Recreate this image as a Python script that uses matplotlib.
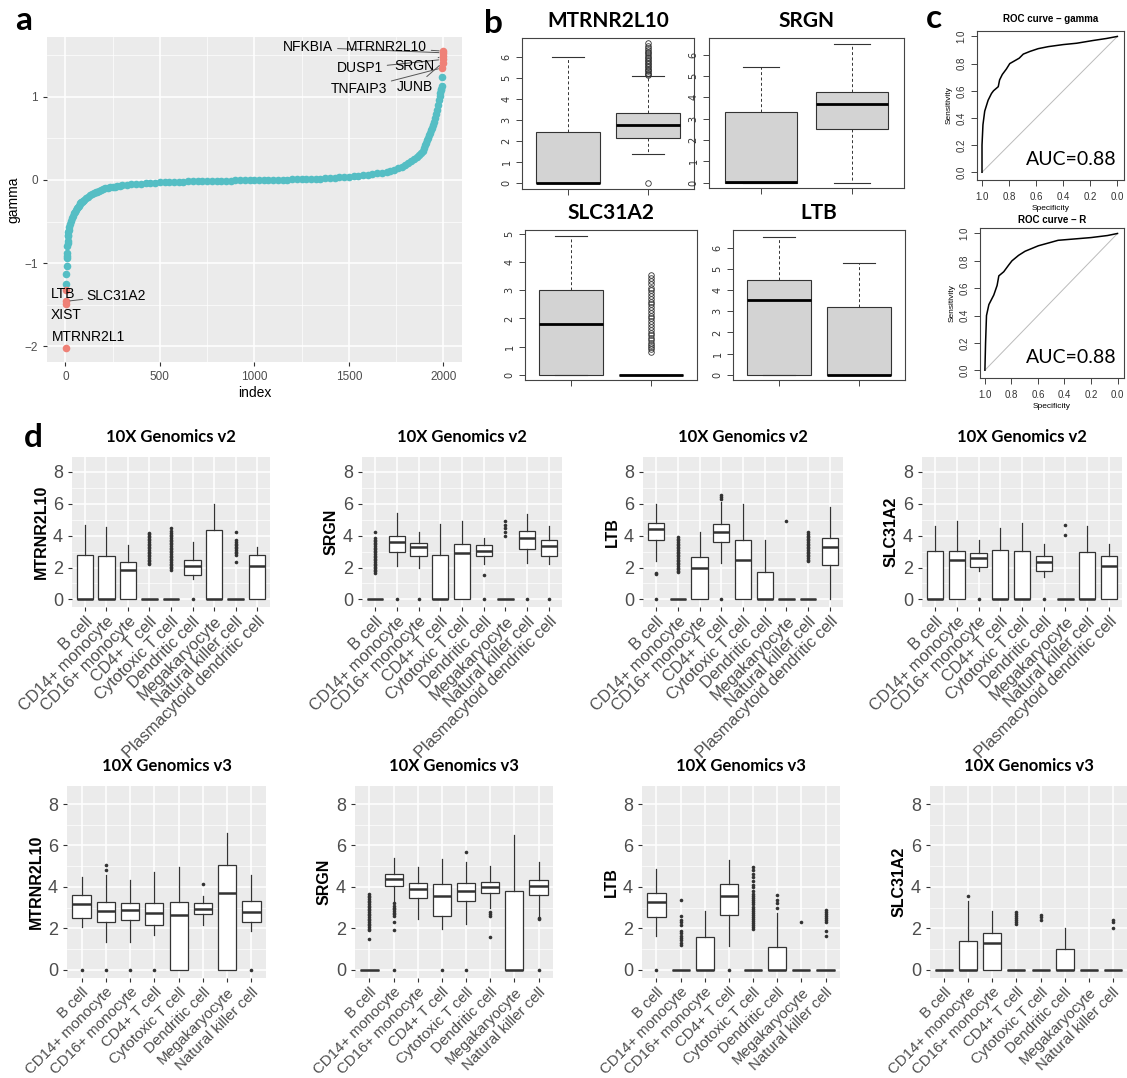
import matplotlib
matplotlib.use("Agg")
import matplotlib.pyplot as plt
from matplotlib.ticker import MultipleLocator, FixedLocator

W, H = 1127, 1078

# ---------------- panel a : sorted gamma values ----------------
a_index = [5, 6, 7, 8, 9, 10, 11, 12, 13, 14, 15, 16, 18,
           20, 25, 30, 35, 40, 45, 50, 55, 60, 65, 70, 75, 80, 85, 90, 95,
           100, 110, 120, 130, 140, 150, 160, 170, 180, 190, 200, 212, 225, 237, 250,
           262, 275, 287, 300, 325, 350, 375, 400, 425, 450, 475, 500, 525, 550, 575,
           600, 625, 650, 675, 700, 725, 750, 775, 800, 825, 850, 875, 900, 925, 950,
           975, 1000, 1025, 1050, 1075, 1100, 1125, 1150, 1175, 1200, 1225, 1250, 1275,
           1300, 1325, 1350, 1375, 1400, 1425, 1450, 1475, 1500, 1525, 1550, 1575, 1600,
           1625, 1650, 1675, 1700, 1720, 1740, 1760, 1780, 1800, 1815, 1830, 1845, 1860,
           1870, 1880, 1890, 1900, 1905, 1910, 1915, 1920, 1925, 1930, 1935, 1940, 1945,
           1950, 1955, 1960, 1965, 1970, 1975, 1980, 1984, 1988, 1990, 1992, 1994]
a_gamma = [-1.25, -1.13, -1.04, -0.94, -0.91, -0.88, -0.80, -0.76, -0.73, -0.68, -0.66,
           -0.63, -0.60,
           -0.57, -0.53, -0.49, -0.46, -0.43, -0.40, -0.38, -0.36, -0.34, -0.325, -0.31,
           -0.295, -0.28, -0.27, -0.26, -0.25,
           -0.24, -0.22, -0.20, -0.185, -0.17, -0.16, -0.15, -0.14, -0.13, -0.12, -0.11,
           -0.102, -0.095, -0.09, -0.085, -0.08, -0.075, -0.07, -0.065, -0.058, -0.052,
           -0.047, -0.043, -0.039, -0.036, -0.033, -0.030, -0.028, -0.026, -0.024,
           -0.022, -0.020, -0.018, -0.016, -0.015, -0.013, -0.012, -0.011, -0.010,
           -0.009, -0.008, -0.007, -0.006, -0.005, -0.004, -0.003, -0.002, -0.001, 0.0,
           0.001, 0.002, 0.003, 0.004, 0.005, 0.006, 0.007, 0.009, 0.010, 0.012, 0.014,
           0.016, 0.019, 0.022, 0.026, 0.030, 0.035, 0.040, 0.045, 0.050, 0.056, 0.062,
           0.070, 0.078, 0.088, 0.10, 0.112, 0.125, 0.14, 0.16, 0.18, 0.20, 0.225, 0.25,
           0.28, 0.30, 0.325, 0.35, 0.39, 0.42, 0.45, 0.48, 0.51, 0.54, 0.57, 0.60, 0.63,
           0.66, 0.70, 0.74, 0.79, 0.84, 0.90, 0.96, 1.01, 1.05, 1.08, 1.10, 1.13, 1.24]

a_genes = ["MTRNR2L1", "XIST", "SLC31A2", "LTB",
           "TNFAIP3", "JUNB", "DUSP1", "SRGN", "NFKBIA", "MTRNR2L10"]
a_gene_index = [1, 2, 3, 4, 1995, 1996, 1997, 1998, 1999, 2000]
a_gene_gamma = [-2.02, -1.49, -1.46, -1.32, 1.35, 1.41, 1.45, 1.49, 1.53, 1.55]
a_label_x = [120, 6, 271, -12, 1554, 1848, 1559, 1845, 1286, 1700]
a_label_y = [-1.89, -1.62, -1.39, -1.37, 1.09, 1.115, 1.345, 1.375, 1.595, 1.595]
a_label_line = [False, False, True, False, True, True, True, True, True, True]

# ---------------- panel b : two-group boxplots ----------------
b_genes = ["MTRNR2L10", "SRGN", "SLC31A2", "LTB"]
# (q1, median, q3, whisker_lo, whisker_hi)
b_mt_box = [(0, 0, 2.43, 0, 6.02), (2.13, 2.77, 3.33, 1.37, 5.1)]
b_mt_out = [[], [5.14, 5.2, 5.26, 5.32, 5.38, 5.45, 5.52, 5.58, 5.65, 5.72, 5.8, 5.87,
                 5.94, 6.02, 6.1, 6.18, 6.26, 6.35, 6.45, 6.55, 6.65, 0.0]]
b_srgn_box = [(0, 0.02, 3.33, 0, 5.43), (2.52, 3.68, 4.23, 0, 6.5)]
b_srgn_out = [[], []]
b_slc_box = [(0, 1.8, 3.0, 0, 4.93), (0, 0, 0, 0, 0)]
b_slc_out = [[], [0.82, 0.9, 0.98, 1.06, 1.14, 1.22, 1.3, 1.4, 1.5, 1.6, 1.7, 1.8, 1.9,
                  2.0, 2.1, 2.2, 2.3, 2.4, 2.5, 2.6, 2.7, 2.8, 2.9, 3.0, 3.1, 3.22,
                  3.35, 3.45, 3.55]]
b_ltb_box = [(0, 3.53, 4.45, 0, 6.52), (0, 0, 3.2, 0, 5.28)]
b_ltb_out = [[], []]
b_ylim = [(-0.3, 6.91), (-0.25, 6.78), (-0.19, 5.15), (-0.24, 6.83)]
b_ymax_tick = [6, 6, 5, 6]

# ---------------- panel c : ROC curves ----------------
roc_gamma_spec = [1.0, 1.0, 0.993, 0.98, 0.955, 0.93, 0.915, 0.88, 0.87, 0.85, 0.82,
                  0.795, 0.76, 0.725, 0.695, 0.645, 0.585, 0.51, 0.4, 0.3, 0.18, 0.08, 0.0]
roc_gamma_sens = [0.0, 0.2, 0.35, 0.45, 0.53, 0.58, 0.60, 0.63, 0.68, 0.72, 0.76, 0.80,
                  0.82, 0.84, 0.87, 0.89, 0.91, 0.925, 0.94, 0.95, 0.97, 0.985, 1.0]
roc_r_spec = [1.0, 0.995, 0.988, 0.97, 0.933, 0.908, 0.895, 0.858, 0.82, 0.796, 0.746,
              0.697, 0.647, 0.597, 0.522, 0.448, 0.323, 0.2, 0.075, 0.0]
roc_r_sens = [0.0, 0.2, 0.40, 0.48, 0.55, 0.62, 0.69, 0.72, 0.77, 0.80, 0.84, 0.87,
              0.89, 0.91, 0.93, 0.95, 0.96, 0.97, 0.985, 1.0]
auc_gamma = 0.88
auc_r = 0.88

# ---------------- panel d : per cell type ----------------
cells_v2 = ["B cell", "CD14+ monocyte", "CD16+ monocyte", "CD4+ T cell",
            "Cytotoxic T cell", "Dendritic cell", "Megakaryocyte",
            "Natural killer cell", "Plasmacytoid dendritic cell"]
cells_v3 = cells_v2[:8]

mt_v2_box = [(0, 0, 2.78, 0, 4.65), (0, 0, 2.72, 0, 4.55), (0, 1.82, 2.35, 0, 3.42),
             (0, 0, 0, 0, 0), (0, 0, 0, 0, 0), (1.52, 2.1, 2.48, 1.3, 3.62),
             (0, 0, 4.35, 0, 6.0), (0, 0, 0, 0, 0), (0, 2.12, 2.8, 0, 3.3)]
mt_v2_out = [[], [], [],
             [2.22, 2.3, 2.4, 2.5, 2.6, 2.7, 2.8, 2.9, 3.0, 3.1, 3.2, 3.3, 3.4, 3.5,
              3.6, 3.7, 3.8, 3.9, 4.0, 4.1, 4.15],
             [1.85, 1.95, 2.05, 2.15, 2.25, 2.35, 2.45, 2.55, 2.65, 2.75, 2.85, 2.95,
              3.05, 3.15, 3.25, 3.35, 3.45, 3.55, 3.65, 3.75, 3.85, 3.95, 4.05, 4.15,
              4.3, 4.5],
             [0.0], [],
             [2.35, 2.8, 2.9, 3.0, 3.1, 3.2, 3.3, 3.4, 3.5, 3.6, 3.7, 4.2], []]

srgn_v2_box = [(0, 0, 0, 0, 0), (3.0, 3.6, 4.0, 2.1, 5.4), (2.7, 3.28, 3.57, 1.95, 4.25),
               (0, 0, 2.8, 0, 4.75), (0, 2.88, 3.5, 0, 4.95), (2.75, 3.05, 3.4, 2.2, 3.85),
               (0, 0, 0, 0, 0), (3.15, 3.85, 4.3, 2.3, 5.35), (2.75, 3.32, 3.72, 2.2, 4.6)]
srgn_v2_out = [[1.65, 1.75, 1.85, 1.95, 2.05, 2.15, 2.25, 2.35, 2.45, 2.55, 2.65, 2.75,
                2.85, 2.95, 3.05, 3.15, 3.25, 3.35, 3.45, 3.55, 3.65, 3.75, 3.85, 4.25],
               [0.0], [0.0], [], [], [1.55, 0.0], [4.0, 4.2, 4.45, 4.7, 4.9], [0.0], [0.0]]

ltb_v2_box = [(3.72, 4.4, 4.82, 2.4, 6.0), (0, 0, 0, 0, 0), (0, 1.95, 2.68, 0, 4.25),
              (3.62, 4.25, 4.72, 2.3, 6.1), (0, 2.5, 3.72, 0, 6.0), (0, 0, 1.7, 0, 3.7),
              (0, 0, 0, 0, 0), (0, 0, 0, 0, 0), (2.18, 3.3, 3.88, 0, 5.8)]
ltb_v2_out = [[1.68, 1.58, 0.0],
              [1.7, 1.8, 1.9, 2.0, 2.1, 2.2, 2.3, 2.4, 2.5, 2.6, 2.7, 2.8, 2.9, 3.0,
               3.1, 3.2, 3.3, 3.4, 3.5, 3.6, 3.7, 3.8, 3.9],
              [], [6.3, 6.45, 6.55, 0.0], [], [], [4.9],
              [2.4, 2.5, 2.6, 2.7, 2.8, 2.9, 3.0, 3.1, 3.2, 3.3, 3.4, 3.5, 3.6, 3.7,
               3.8, 3.9, 4.0, 4.1, 4.2],
              []]

slc_v2_box = [(0, 0, 3.02, 0, 4.6), (0, 2.45, 3.02, 0, 4.95), (2.05, 2.6, 2.9, 1.75, 3.7),
              (0, 0, 3.1, 0, 4.5), (0, 0, 3.02, 0, 4.82), (1.8, 2.32, 2.75, 1.4, 3.45),
              (0, 0, 0, 0, 0), (0, 0, 3.0, 0, 4.6), (0, 2.1, 2.7, 0, 3.5)]
slc_v2_out = [[], [], [0.0], [], [], [0.0], [4.05, 4.7], [], []]

mt_v3_box = [(2.5, 3.18, 3.6, 2.05, 4.5), (2.3, 2.83, 3.27, 1.35, 4.55),
             (2.38, 2.88, 3.2, 1.35, 4.35), (2.18, 2.75, 3.22, 1.7, 4.72),
             (0, 2.65, 3.28, 0, 4.95), (2.7, 2.92, 3.2, 2.15, 3.58),
             (0, 3.68, 5.05, 0, 6.62), (2.28, 2.8, 3.3, 1.88, 4.58)]
mt_v3_out = [[0.0], [4.8, 5.05, 0.0], [0.0], [0.0], [], [4.12], [], [0.0]]

srgn_v3_box = [(0, 0, 0, 0, 0), (4.05, 4.38, 4.62, 3.25, 5.4), (3.48, 3.88, 4.18, 2.45, 4.98),
               (2.58, 3.55, 4.15, 1.97, 5.35), (3.3, 3.78, 4.18, 2.2, 5.2),
               (3.72, 3.98, 4.25, 3.0, 5.0), (0, 0, 3.8, 0, 6.5),
               (3.62, 4.02, 4.35, 2.55, 5.2)]
srgn_v3_out = [[1.5, 1.9, 1.98, 2.06, 2.14, 2.22, 2.3, 2.38, 2.46, 2.54, 2.62, 2.7, 2.78,
                2.86, 2.94, 3.02, 3.1, 3.18, 3.26, 3.34, 3.42, 3.5, 3.58, 3.65],
               [1.92, 2.3, 2.6, 2.68, 2.76, 2.84, 2.92, 3.0, 3.1, 3.2, 0.0],
               [], [0.0], [5.7, 0.0], [2.6, 2.7, 2.8, 1.6], [], [2.45, 2.52, 0.0]]

ltb_v3_box = [(2.55, 3.28, 3.72, 1.65, 4.85), (0, 0, 0, 0, 0), (0, 0, 1.6, 0, 2.85),
              (2.62, 3.55, 4.12, 1.15, 5.28), (0, 0, 0, 0, 0), (0, 0, 1.08, 0, 2.75),
              (0, 0, 0, 0, 0), (0, 0, 0, 0, 0)]
ltb_v3_out = [[0.0],
              [1.2, 1.3, 1.42, 1.55, 1.65, 1.75, 1.85, 2.15, 2.3, 2.4, 2.58, 3.35],
              [], [0.0],
              [1.95, 2.05, 2.15, 2.25, 2.35, 2.45, 2.55, 2.65, 2.75, 2.85, 2.95, 3.05,
               3.15, 3.25, 3.35, 3.45, 3.55, 3.65, 3.8, 4.0, 4.1, 4.3, 4.5, 4.62,
               4.8, 4.95],
              [3.0, 3.2, 3.35, 3.6], [2.3],
              [1.65, 1.85, 2.3, 2.4, 2.5, 2.6, 2.7, 2.8, 2.9]]

slc_v3_box = [(0, 0, 0, 0, 0), (0, 0, 1.38, 0, 3.3), (0, 1.3, 1.78, 0, 2.85),
              (0, 0, 0, 0, 0), (0, 0, 0, 0, 0), (0, 0, 1.02, 0, 2.02),
              (0, 0, 0, 0, 0), (0, 0, 0, 0, 0)]
slc_v3_out = [[], [3.55], [], [2.2, 2.3, 2.4, 2.5, 2.6, 2.7, 2.8], [2.4, 2.55, 2.65],
              [], [], [2.0, 2.3, 2.4]]

d_genes = ["MTRNR2L10", "SRGN", "LTB", "SLC31A2"]
d_v2 = [(mt_v2_box, mt_v2_out), (srgn_v2_box, srgn_v2_out),
        (ltb_v2_box, ltb_v2_out), (slc_v2_box, slc_v2_out)]
d_v3 = [(mt_v3_box, mt_v3_out), (srgn_v3_box, srgn_v3_out),
        (ltb_v3_box, ltb_v3_out), (slc_v3_box, slc_v3_out)]

# ---------------- drawing ----------------
SANS = "Liberation Sans"
TITLE = "Lato"
GG_TEXT = "#4d4d4d"
GG_LINE = "#333333"

fig = plt.figure(figsize=(W / 100, H / 100), dpi=100)


def axes_px(left, top, right, bottom):
    return fig.add_axes([left / W, 1 - bottom / H, (right - left) / W, (bottom - top) / H])


def fig_text(x, y, s, **kw):
    fig.text(x / W, 1 - y / H, s, **kw)


def to_stats(boxes, outs):
    stats = []
    for (q1, med, q3, lo, hi), fl in zip(boxes, outs):
        stats.append(dict(q1=q1, med=med, q3=q3, whislo=lo, whishi=hi, fliers=fl))
    return stats


def gg_style(ax):
    ax.set_facecolor("#EBEBEB")
    for s in ax.spines.values():
        s.set_visible(False)
    ax.grid(which="major", color="white", lw=1.1)
    ax.grid(which="minor", color="white", lw=0.5)
    ax.set_axisbelow(True)
    ax.tick_params(which="major", length=3, color=GG_LINE, labelcolor=GG_TEXT, width=0.8)
    ax.tick_params(which="minor", length=0)


def r_style(ax):
    for s in ax.spines.values():
        s.set_color("#444444")
        s.set_linewidth(0.8)
    ax.tick_params(length=4, width=0.7, color="#444444", labelcolor="#333333",
                   labelsize=7)
    ax.tick_params(axis="y", labelrotation=90)
    for lab in ax.get_yticklabels():
        lab.set_va("center")


# panel a
ax = axes_px(47, 37, 462, 362)
gg_style(ax)
ax.scatter(a_index, a_gamma, s=30, color="#55BEC4", lw=0, zorder=3)
ax.scatter(a_gene_index, a_gene_gamma, s=30, color="#EF8177", lw=0, zorder=4)
for g, gx, gy, lx, ly, ln in zip(a_genes, a_gene_index, a_gene_gamma,
                                 a_label_x, a_label_y, a_label_line):
    arrow = dict(arrowstyle="-", color="#555555", lw=0.7, shrinkA=1, shrinkB=3) if ln else None
    ax.annotate(g, xy=(gx, gy), xytext=(lx, ly), ha="center", va="center",
                fontsize=10, family=SANS, arrowprops=arrow, zorder=5)
ax.set_xlim(-97, 2099)
ax.set_ylim(-2.19, 1.72)
ax.xaxis.set_major_locator(MultipleLocator(500))
ax.xaxis.set_minor_locator(MultipleLocator(250))
ax.yaxis.set_major_locator(MultipleLocator(1))
ax.yaxis.set_minor_locator(MultipleLocator(0.5))
ax.set_yticks([-2, -1, 0, 1])
ax.set_yticklabels(["\u22122", "\u22121", "0", "1"])
for lab in ax.get_xticklabels() + ax.get_yticklabels():
    lab.set_family(SANS)
    lab.set_fontsize(8.5)
ax.set_xlabel("index", family=SANS, fontsize=10, labelpad=2)
ax.set_ylabel("gamma", family=SANS, fontsize=10, labelpad=3)

# panel b
b_pos = [(522, 38, 694, 189), (709, 38, 904, 188), (525, 230, 697, 380), (733, 230, 905, 380)]
b_data = [(b_mt_box, b_mt_out), (b_srgn_box, b_srgn_out),
          (b_slc_box, b_slc_out), (b_ltb_box, b_ltb_out)]
for gene, pos, (bx, bo), ylim, ymax in zip(b_genes, b_pos, b_data, b_ylim, b_ymax_tick):
    ax = axes_px(*pos)
    ax.bxp(to_stats(bx, bo), positions=[1, 2], widths=0.8, patch_artist=True,
           capwidths=0.4,
           boxprops=dict(facecolor="#D3D3D3", edgecolor="#333333", lw=0.8),
           medianprops=dict(color="black", lw=2.0),
           whiskerprops=dict(color="#333333", lw=0.7, ls=(0, (3, 2.5))),
           capprops=dict(color="#333333", lw=0.8),
           flierprops=dict(marker="o", markersize=4, mfc="none", mec="#333333", mew=0.6))
    ax.set_xlim(0.42, 2.58)
    ax.set_ylim(*ylim)
    ax.set_xticks([1, 2])
    ax.set_xticklabels(["", ""])
    ax.set_yticks(range(ymax + 1))
    r_style(ax)
    fig_text((pos[0] + pos[2]) / 2, pos[1] - 17, gene, ha="center", va="center",
             fontsize=15, fontweight="bold", family=TITLE)

# panel c
c_pos = [(977, 31, 1124, 180), (980, 228, 1124, 378)]
c_title = ["ROC curve \u2013 gamma", "ROC curve \u2013 R"]
c_title_y = [19, 220]
c_curves = [(roc_gamma_spec, roc_gamma_sens, auc_gamma), (roc_r_spec, roc_r_sens, auc_r)]
for pos, title, ty, (sp, se, auc) in zip(c_pos, c_title, c_title_y, c_curves):
    ax = axes_px(*pos)
    ax.plot([1, 0], [0, 1], color="#BBBBBB", lw=0.7)
    ax.plot(sp, se, color="black", lw=1.1)
    ax.set_xlim(1.037, -0.049)
    ax.set_ylim(-0.057, 1.04)
    ax.set_xticks([1.0, 0.8, 0.6, 0.4, 0.2, 0.0])
    ax.set_xticklabels(["1.0", "0.8", "0.6", "0.4", "0.2", "0.0"])
    ax.set_yticks([0.0, 0.2, 0.4, 0.6, 0.8, 1.0])
    ax.set_yticklabels(["0.0", "0.2", "0.4", "0.6", "0.8", "1.0"])
    r_style(ax)
    ax.tick_params(axis="x", pad=5)
    for lab in ax.get_xticklabels() + ax.get_yticklabels():
        lab.set_family(SANS)
    ax.set_xlabel("Specificity", family=SANS, fontsize=6, labelpad=2)
    ax.set_ylabel("Sensitivity", family=SANS, fontsize=6, labelpad=3)
    ax.text(0.95, 0.08, "AUC=%.2f" % auc, transform=ax.transAxes, ha="right",
            va="bottom", fontsize=14, family=TITLE)
    fig_text((pos[0] + pos[2]) / 2, ty, title, ha="center", va="center",
             fontsize=7, fontweight="bold", family=SANS)

# panel d
row_specs = [
    (457, 607, [(72, 270), (362, 562), (643, 843), (922, 1122)], cells_v2, d_v2,
     "10X Genomics v2", (-0.48, 8.94), 11.8),
    (786, 978, [(67, 266), (355, 553), (642, 840), (930, 1127)], cells_v3, d_v3,
     "10X Genomics v3", (-0.4, 8.87), 10.8),
]
for top, bottom, cols, cells, data, title, ylim, xfs in row_specs:
    for gene, (l, r), (bx, bo) in zip(d_genes, cols, data):
        ax = axes_px(l, top, r, bottom)
        gg_style(ax)
        n = len(cells)
        ax.bxp(to_stats(bx, bo), positions=range(1, n + 1), widths=0.75,
               patch_artist=True, showcaps=False,
               boxprops=dict(facecolor="white", edgecolor=GG_LINE, lw=0.9),
               medianprops=dict(color=GG_LINE, lw=1.8),
               whiskerprops=dict(color=GG_LINE, lw=0.9),
               flierprops=dict(marker="o", markersize=2.6, mfc=GG_LINE, mec="none"))
        ax.set_xlim(0.4, n + 0.6)
        ax.set_ylim(*ylim)
        ax.set_yticks([0, 2, 4, 6, 8])
        ax.set_yticklabels(["0", "2", "4", "6", "8"])
        ax.yaxis.set_minor_locator(FixedLocator([1, 3, 5, 7]))
        ax.set_xticks(range(1, n + 1))
        ax.set_xticklabels(cells, rotation=45, ha="right", va="top",
                           rotation_mode="anchor")
        ax.tick_params(axis="x", pad=2)
        for lab in ax.get_xticklabels():
            lab.set_family(SANS)
            lab.set_fontsize(xfs)
        for lab in ax.get_yticklabels():
            lab.set_family(SANS)
            lab.set_fontsize(13)
        ax.set_ylabel(gene, family=SANS, fontsize=11.5, fontweight="bold", labelpad=3)
        fig_text((l + r) / 2, top - 20, title, ha="center", va="center",
                 fontsize=12, fontweight="bold", family=TITLE)

# panel letters
for letter, x, y in [("a", 15, 30), ("b", 484, 33), ("c", 926, 28), ("d", 24, 447)]:
    fig_text(x, y, letter, ha="left", va="baseline", fontsize=24,
             fontweight="bold", family=TITLE)

fig.savefig("out.png", dpi=100)
